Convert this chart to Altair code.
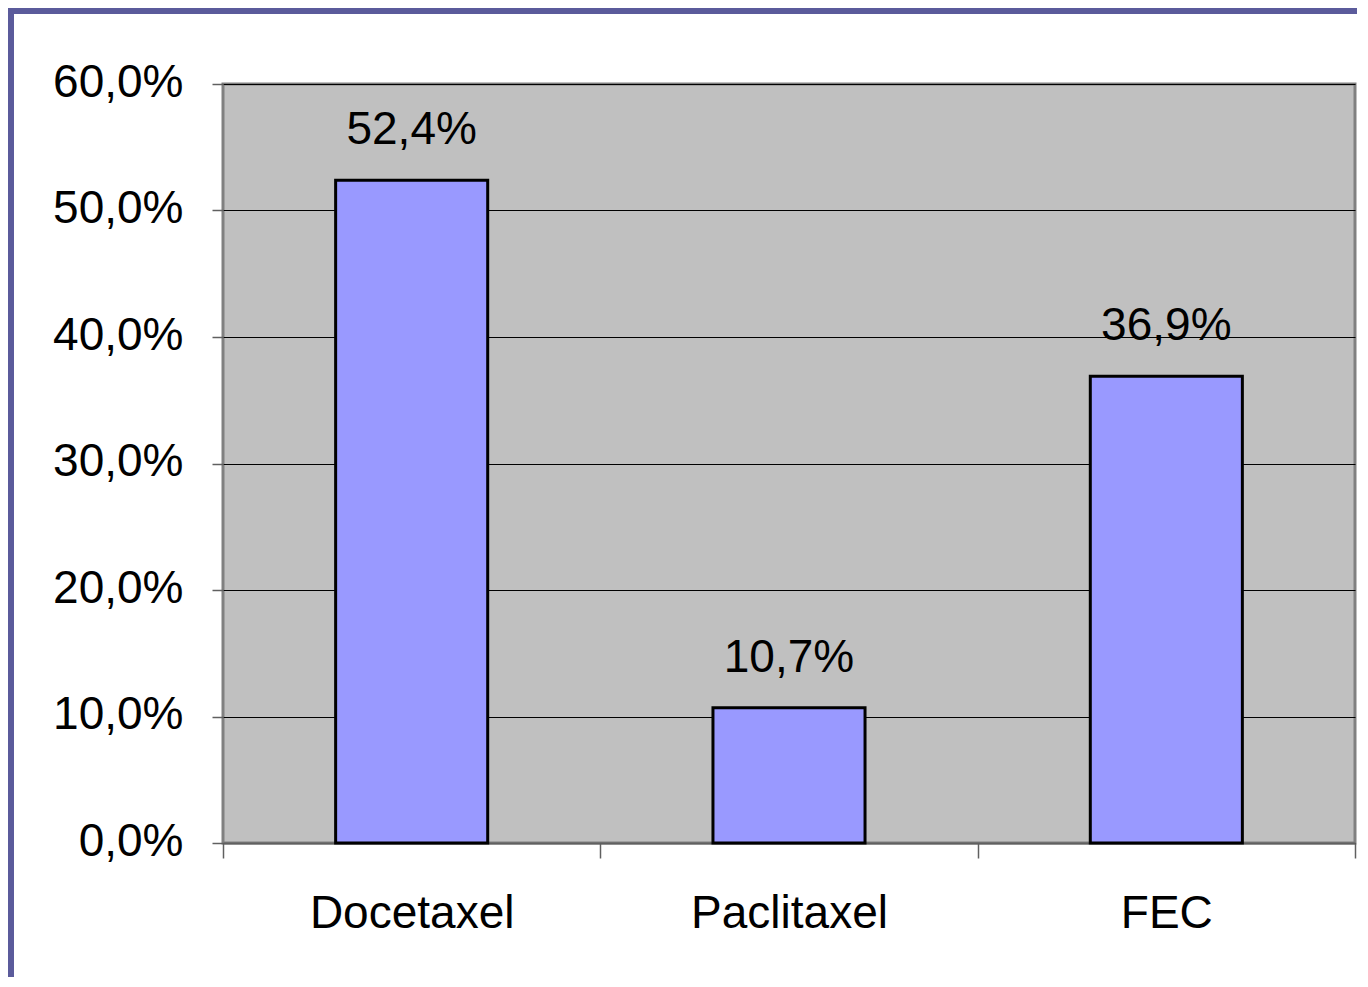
import altair as alt
import pandas as pd

categories = ["Docetaxel", "Paclitaxel", "FEC"]
values = [0.524, 0.107, 0.369]

df = pd.DataFrame({"drug": categories, "share": values})
FONT = "Liberation Sans"

x_enc = alt.X("drug:N", sort=categories, title=None,
              scale=alt.Scale(paddingInner=0, paddingOuter=0),
              axis=alt.Axis(labelAngle=0, labelFontSize=46, labelFont=FONT,
                            labelColor="black", labelPadding=33, tickSize=15,
                            tickColor="#606060", tickWidth=1.5, domainColor="#606060",
                            domainWidth=2, tickBand="extent", grid=False,
                            labelBaseline="top", labelLimit=0))
y_enc = alt.Y("share:Q", title=None,
              scale=alt.Scale(domain=[0, 0.6], nice=False),
              axis=alt.Axis(values=[0, 0.1, 0.2, 0.3, 0.4, 0.5, 0.6],
                            labelExpr="replace(format(datum.value, '.1%'), '.', ',')",
                            labelFontSize=46, labelFont=FONT, labelColor="black",
                            labelPadding=29, labelOffset=-2, tickSize=11,
                            tickColor="#606060", tickWidth=1.5, domain=False, grid=True,
                            gridColor="black", gridWidth=1, gridOpacity=1))

base = alt.Chart(df)
bars = base.mark_bar(color="#9999ff", stroke="black", strokeWidth=3,
                     width=alt.RelativeBandSize(0.403)).encode(x=x_enc, y=y_enc)
labels = base.mark_text(fontSize=46, font=FONT, color="black", dy=-36,
                        baseline="alphabetic").encode(
    x=alt.X("drug:N", sort=categories),
    y="share:Q",
    text=alt.Text("label:N"),
).transform_calculate(label="replace(format(datum.share, '.1%'), '.', ',')")

frame_src = alt.Data(values=[{"k": 1}])
top_band = alt.Chart(frame_src).mark_rule(color="#5b5b9b", strokeWidth=6).encode(
    x=alt.value(-215), x2=alt.value(1140), y=alt.value(-73))
left_band = alt.Chart(frame_src).mark_rule(color="#5b5b9b", strokeWidth=6).encode(
    x=alt.value(-212), y=alt.value(-76), y2=alt.value(900))

chart = alt.layer(bars, labels, top_band, left_band).properties(
    width=1132, height=759,
    autosize=alt.AutoSizeParams(type="none"),
    padding={"left": 215, "top": 76, "right": 2, "bottom": 134},
    background="white",
).configure_view(fill="#c0c0c0", stroke="#808080", strokeWidth=3)

chart.save("out.html", embed_options={"renderer": "svg", "actions": False})
